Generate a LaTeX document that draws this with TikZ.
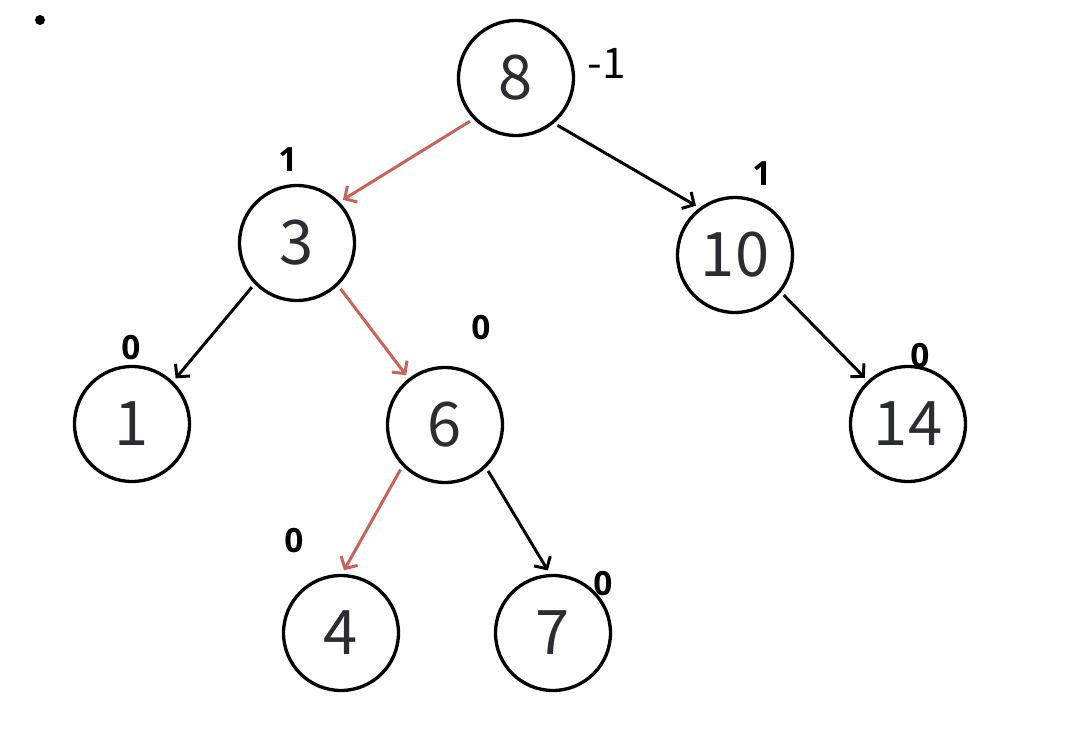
\documentclass[tikz,border=0pt]{standalone}
\usepackage{fontspec}
\setmainfont{Noto Sans}
\newfontfamily\balfont{Open Sans}
\newfontfamily\cjk{Noto Sans CJK SC}
\usetikzlibrary{arrows.meta}
\definecolor{KeyClr}{HTML}{2B2D33}
\definecolor{PathClr}{HTML}{C9625A}

\begin{document}
\begin{tikzpicture}[x=0.02cm,y=-0.02cm,
  vtx/.style={circle,draw,line width=1.9pt,minimum size=2.3cm,inner sep=0pt,
    text=KeyClr,font=\cjk\fontsize{35}{40}\selectfont},
  bal/.style={inner sep=0pt,font=\balfont\fontsize{19}{22}\selectfont\bfseries},
  link/.style={line width=1.7pt,-{Straight Barb[length=1.8mm,width=3.8mm]},
    shorten <=0.08cm,shorten >=0.08cm},
  hot/.style={link,draw=PathClr}]
\fill[white] (0,0) rectangle (1080,747);
\useasboundingbox (0,0) rectangle (1080,747);

\fill (40,20) circle (0.1cm);

% keys
\node[vtx] (n8)  at (516,78)  {8};
\node[vtx] (n3)  at (297,243) {3};
\node[vtx] (n10) at (735,255) {10};
\node[vtx] (n1)  at (132,424) {1};
\node[vtx] (n6)  at (445,425) {6};
\node[vtx] (n14) at (908,424) {14};
\node[vtx] (n4)  at (341,633) {4};
\node[vtx] (n7)  at (553,633) {7};

% balance factors
\node[bal,font=\cjk\fontsize{24}{28}\selectfont] (b8) at (607,63) {-1};
\node[bal] (b3)  at (288,160) {1};
\node[bal] (b10) at (762,174) {1};
\node[bal] (b1)  at (131,348) {0};
\node[bal] (b6)  at (481,328) {0};
\node[bal] (b14) at (920,356) {0};
\node[bal] (b4)  at (294,541) {0};
\node[bal] (b7)  at (603,584) {0};

% links
\draw[hot]  (n8.224)  -- (n3.44);
\draw[link] (n8.310)  -- (n10.127);
\draw[link] (n3.224)  -- (n1.46);
\draw[hot]  (n3.314)  -- (n6.128);
\draw[link] (n10.321) -- (n14.133);
\draw[hot]  (n6.224)  -- (n4.89);
\draw[link] (n6.314)  -- (n7.93);

\end{tikzpicture}
\end{document}
